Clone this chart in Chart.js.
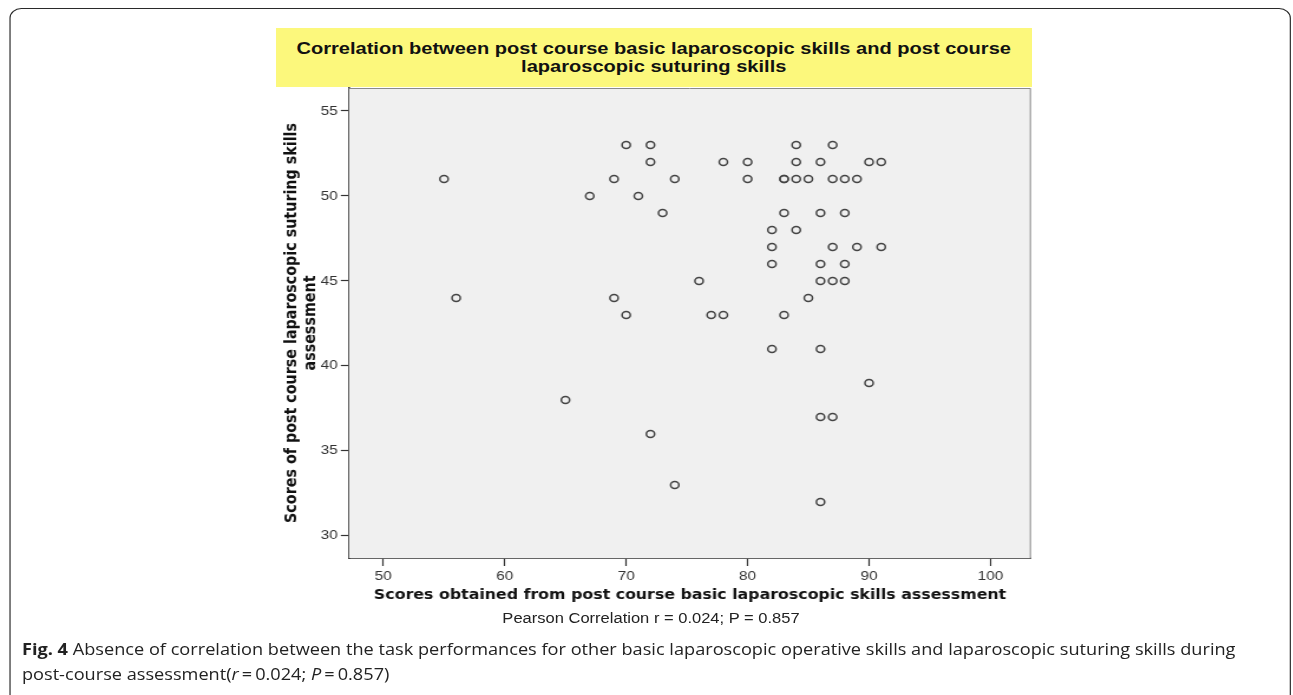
<!DOCTYPE html>
<html lang="en">
<head>
<meta charset="UTF-8" />
<title>Correlation between post course skills</title>
<script src="https://cdn.jsdelivr.net/npm/chart.js"></script>
<style>
    html, body { margin: 0; padding: 0; background: #fff; overflow: hidden; width: 1293px; height: 695px; }
    /* the source figure is stretched sideways, so the page is laid out narrow and widened */
    #page {
        position: absolute; left: 0; top: 0; width: 1096px; height: 695px;
        transform: scaleX(1.18); transform-origin: 0 0;
    }
    .frame {
        position: absolute; left: 7.6px; top: 8px; width: 1086px; height: 720px;
        border: 1.5px solid #2a2a2a; border-radius: 10px; box-sizing: border-box;
    }
    #chart { position: absolute; left: 0; top: 0; }
    .title-box {
        position: absolute; left: 234px; top: 28px; width: 640px; height: 59px;
        background: #fcf87c; text-align: center;
        font: bold 17px "Liberation Sans", Arial, sans-serif; line-height: 18px;
        color: #111; padding-top: 12px; box-sizing: border-box;
    }
    .note {
        position: absolute; left: 401.7px; width: 300px; top: 610px; text-align: center;
        font: 14px "Liberation Sans", Arial, sans-serif; color: #222;
    }
    .caption {
        position: absolute; left: 18.6px; top: 637px; width: 1070px;
        font: 15.4px "Open Sans", sans-serif; line-height: 25px; color: #222; white-space: nowrap;
    }
</style>
</head>
<body>
<div id="page">
    <div class="frame"></div>
    <canvas id="chart" width="1096" height="640"></canvas>
    <div class="title-box">Correlation between post course basic laparoscopic skills and post course<br>laparoscopic suturing skills</div>
    <div class="note">Pearson Correlation r = 0.024; P = 0.857</div>
    <div class="caption"><b>Fig. 4</b> Absence of correlation between the task performances for other basic laparoscopic operative skills and laparoscopic suturing skills during<br>post-course assessment(<i>r</i>&#8201;=&#8201;0.024; <i>P</i>&#8201;=&#8201;0.857)</div>
</div>

<script>
    // basic skills score (x) and suturing score (y)
    const basicScores = [
        55, 56, 65, 67, 69, 69, 70, 70, 71, 72, 72, 72, 73, 74, 74,
        76, 77, 78, 78, 80, 80, 82, 82, 82, 82, 83, 83, 83, 83,
        84, 84, 84, 84, 85, 85, 86, 86, 86, 86, 86, 86, 86,
        87, 87, 87, 87, 87, 88, 88, 88, 88, 89, 89, 90, 90, 91, 91
    ];
    const suturingScores = [
        51, 44, 38, 50, 51, 44, 53, 43, 50, 53, 52, 36, 49, 51, 33,
        45, 43, 52, 43, 52, 51, 48, 47, 46, 41, 51, 51, 49, 43,
        53, 52, 51, 48, 51, 44, 52, 49, 46, 45, 41, 37, 32,
        53, 51, 47, 45, 37, 51, 49, 46, 45, 51, 47, 52, 39, 52, 47
    ];
    const xTicks = [50, 60, 70, 80, 90, 100];
    const yTicks = [30, 35, 40, 45, 50, 55];

    const points = basicScores.map((x, i) => ({ x: x, y: suturingScores[i] }));

    // grey plot background plus the light top/right frame lines
    const plotFrame = {
        id: "plotFrame",
        beforeDatasetsDraw(chart) {
            const { ctx, chartArea: a } = chart;
            ctx.save();
            ctx.fillStyle = "#f0f0f0";
            ctx.fillRect(a.left, a.top, a.right - a.left, a.bottom - a.top);
            ctx.strokeStyle = "#8a8a8a";
            ctx.lineWidth = 1;
            ctx.beginPath();
            ctx.moveTo(a.left, a.top + 0.5);
            ctx.lineTo(a.right - 0.5, a.top + 0.5);
            ctx.lineTo(a.right - 0.5, a.bottom);
            ctx.stroke();
            ctx.restore();
        }
    };

    const tickFont = { family: "'Liberation Sans', Arial, sans-serif", size: 13 };
    const titleFamily = "'DejaVu Sans', Verdana, sans-serif";

    new Chart(document.getElementById("chart"), {
        type: "scatter",
        data: {
            datasets: [{
                data: points,
                pointStyle: "circle",
                pointRadius: 3.5,
                pointHoverRadius: 3.5,
                pointBorderWidth: 1.5,
                borderColor: "#444",
                backgroundColor: "rgba(0,0,0,0)"
            }]
        },
        options: {
            responsive: false,
            animation: false,
            layout: { padding: { left: 234, top: 88, right: 222.3, bottom: 32 } },
            plugins: { legend: { display: false }, tooltip: { enabled: false } },
            scales: {
                x: {
                    type: "linear",
                    min: 47.18,
                    max: 103.33,
                    afterFit: (s) => { s.height = 50; },
                    afterBuildTicks: (s) => { s.ticks = xTicks.map(v => ({ value: v })); },
                    grid: { drawOnChartArea: false, tickLength: 8, tickColor: "#333", tickWidth: 1.2 },
                    border: { color: "#333", width: 1.8 },
                    ticks: { font: tickFont, color: "#333", padding: 3 },
                    title: {
                        display: true,
                        text: "Scores obtained from post course basic laparoscopic skills assessment",
                        font: { family: titleFamily, size: 13.4, weight: "bold", lineHeight: 1.2 },
                        color: "#111",
                        padding: { top: 4, bottom: 4 }
                    }
                },
                y: {
                    type: "linear",
                    min: 28.7,
                    max: 56.35,
                    afterFit: (s) => { s.width = 61.8; },
                    afterBuildTicks: (s) => { s.ticks = yTicks.map(v => ({ value: v })); },
                    grid: { drawOnChartArea: false, tickLength: 7, tickColor: "#333", tickWidth: 1.2 },
                    border: { color: "#333", width: 1.6 },
                    ticks: { font: tickFont, color: "#333", padding: 2.5 },
                    title: {
                        display: true,
                        text: ["Scores of post course laparoscopic suturing skills", "assessment"],
                        font: { family: titleFamily, size: 14.3, weight: "bold", lineHeight: 1.13 },
                        color: "#111",
                        padding: { top: 5.4, bottom: 0 }
                    }
                }
            }
        },
        plugins: [plotFrame]
    });
</script>
</body>
</html>
